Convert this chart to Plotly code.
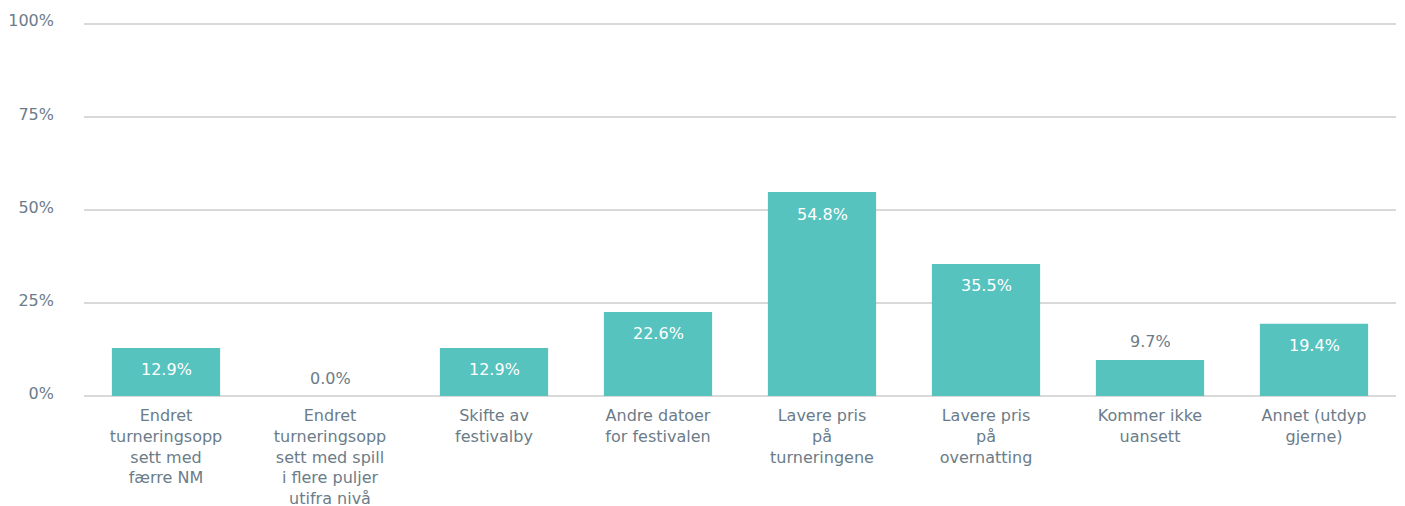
import plotly.graph_objects as go

categories = [
    "Endret<br>turneringsopp<br>sett med<br>færre NM",
    "Endret<br>turneringsopp<br>sett med spill<br>i flere puljer<br>utifra nivå",
    "Skifte av<br>festivalby",
    "Andre datoer<br>for festivalen",
    "Lavere pris<br>på<br>turneringene",
    "Lavere pris<br>på<br>overnatting",
    "Kommer ikke<br>uansett",
    "Annet (utdyp<br>gjerne)",
]
values = [12.9, 0.0, 12.9, 22.6, 54.8, 35.5, 9.7, 19.4]
y_tickvals = [0, 25, 50, 75, 100]
y_ticktext = ["0%", "25%", "50%", "75%", "100%"]

BAR = "#57c3bf"
TXT = "#6b7c89"
FONT = "DejaVu Sans"

fig = go.Figure()
fig.add_trace(go.Bar(
    x=categories, y=values, marker=dict(color=BAR, line=dict(width=0)),
    width=0.66, hoverinfo="skip",
))

for c, v in zip(categories, values):
    inside = v >= 12
    fig.add_annotation(
        x=c, y=v, text=f"{v:.1f}%", showarrow=False,
        yshift=-22 if inside else 18,
        font=dict(family=FONT, size=16, color="white" if inside else TXT),
    )

fig.update_layout(
    width=1405, height=506,
    margin=dict(l=76, r=17, t=14, b=118, autoexpand=False),
    paper_bgcolor="white", plot_bgcolor="white",
    font=dict(family=FONT, size=16, color=TXT),
    showlegend=False, bargap=0.34,
)
fig.update_yaxes(
    range=[0, 100.5], tickvals=y_tickvals, ticktext=y_ticktext,
    showgrid=True, gridcolor="#d9d9d9", gridwidth=2,
    zeroline=True, zerolinecolor="#d9d9d9", zerolinewidth=2,
    showline=False, ticks="", ticklabelstandoff=29, ticklabelshift=-3,
    tickfont=dict(family=FONT, size=16, color=TXT), fixedrange=True,
    automargin=False,
)
fig.update_xaxes(
    showgrid=False, showline=False, ticks="",
    tickfont=dict(family=FONT, size=16, color=TXT), tickangle=0,
    ticklabelstandoff=8, fixedrange=True, automargin=False,
)

fig.write_html("out.html", config={"displayModeBar": False})
